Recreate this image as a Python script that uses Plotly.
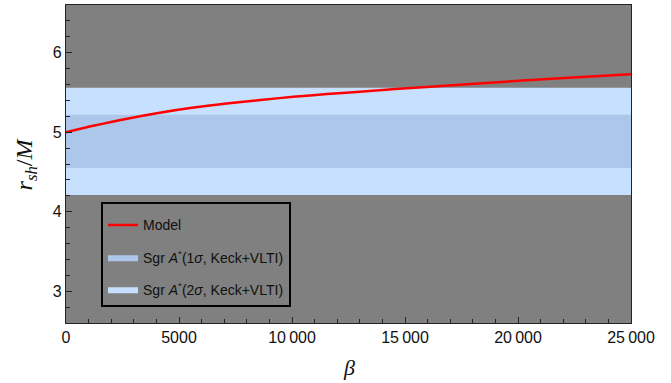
import plotly.graph_objects as go

# Model curve r_sh/M vs beta
beta = [0, 1200, 2700, 4150, 5650, 7100, 8600, 10050, 11550, 13000, 15950, 18900, 21850, 25000]
rsh = [5.00, 5.08, 5.17, 5.245, 5.31, 5.36, 5.405, 5.445, 5.48, 5.51, 5.57, 5.625, 5.68, 5.73]

# Sgr A* bounds
sigma1 = [4.55, 5.22]
sigma2 = [4.21, 5.56]
x_range = [0, 25000]
y_range = [2.6, 6.6]

x_tickvals = [0, 5000, 10000, 15000, 20000, 25000]
x_ticktext = ["0", "5000", "10\u2009000", "15\u2009000", "20\u2009000", "25\u2009000"]
y_tickvals = [3, 4, 5, 6]

fig = go.Figure()

fig.add_trace(go.Scatter(
    x=[x_range[0], x_range[1], x_range[1], x_range[0], x_range[0]],
    y=[sigma2[0], sigma2[0], sigma2[1], sigma2[1], sigma2[0]],
    fill="toself", fillcolor="#c6e0fe", line=dict(width=0, color="#c6e0fe"),
    mode="lines", name="Sgr <i>A</i><sup>*</sup>(2<i>σ</i>, Keck+VLTI)",
    legendgroup="g3", legendrank=3, hoverinfo="skip"))
fig.add_trace(go.Scatter(
    x=[x_range[0], x_range[1], x_range[1], x_range[0], x_range[0]],
    y=[sigma1[0], sigma1[0], sigma1[1], sigma1[1], sigma1[0]],
    fill="toself", fillcolor="#adc7ea", line=dict(width=0, color="#adc7ea"),
    mode="lines", name="Sgr <i>A</i><sup>*</sup>(1<i>σ</i>, Keck+VLTI)",
    legendgroup="g2", legendrank=2, hoverinfo="skip"))
fig.add_trace(go.Scatter(
    x=beta, y=rsh, mode="lines",
    line=dict(color="#ff0000", width=2.5, shape="spline", smoothing=0.8),
    name="Model", legendgroup="g1", legendrank=1))

axis_common = dict(
    showline=True, linecolor="#222222", linewidth=1.3, mirror=True,
    ticks="inside", ticklen=6, tickwidth=1, tickcolor="#222222",
    showgrid=False, zeroline=False,
    tickfont=dict(family="Liberation Sans, Arial", size=16, color="#111111"),
)

fig.update_xaxes(range=x_range, tickvals=x_tickvals, ticktext=x_ticktext,
                 minor=dict(dtick=1000, ticks="inside", ticklen=3.5, tickcolor="#222222", showgrid=False),
                 **axis_common)
fig.update_yaxes(range=y_range, tickvals=y_tickvals,
                 minor=dict(dtick=0.2, ticks="inside", ticklen=3.5, tickcolor="#222222", showgrid=False),
                 **axis_common)

fig.update_layout(
    width=671, height=383,
    margin=dict(l=66, r=40, t=5, b=60),
    paper_bgcolor="white", plot_bgcolor="#808080",
    showlegend=True,
    legend=dict(x=0.062, y=0.38, xanchor="left", yanchor="top",
                bgcolor="#808080", bordercolor="#000000", borderwidth=2,
                font=dict(family="Liberation Sans, Arial", size=14, color="#111111"),
                title=dict(text=" ", font=dict(size=4)),
                tracegroupgap=11, traceorder="grouped"),
    annotations=[
        dict(text="<i>r</i><sub><i>sh</i></sub>/<i>M</i>", xref="paper", yref="paper",
             x=-0.07, y=0.5, xanchor="center", yanchor="middle", textangle=-90,
             showarrow=False, font=dict(family="Liberation Serif, serif", size=24, color="#111111")),
        dict(text="<i>β</i>", xref="paper", yref="paper",
             x=0.5, y=-0.14, xanchor="center", yanchor="middle",
             showarrow=False, font=dict(family="Liberation Serif, serif", size=22, color="#111111")),
    ],
)

fig.write_html("out.html")
